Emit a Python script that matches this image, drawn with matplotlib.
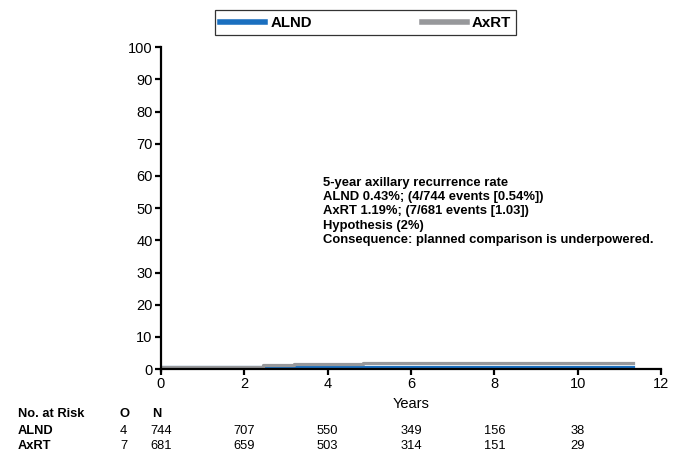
import numpy as np
import matplotlib
matplotlib.use("Agg")
import matplotlib.pyplot as plt

plt.rcParams['font.family'] = ['Liberation Sans', 'DejaVu Sans']

# curvas de incidencia acumulada (escalones), en % y años
alnd_t = [0, 3.2, 11.33]
alnd_y = [0.6, 0.6, 0.6]
axrt_t = [0, 2.45, 3.2, 4.4, 4.85, 11.33]
axrt_y = [0.8, 1.2, 1.5, 1.7, 2.0, 2.0]

# tabla de pacientes en riesgo
risk_years = [0, 2, 4, 6, 8, 10]
alnd_risk = [744, 707, 550, 349, 156, 38]
axrt_risk = [681, 659, 503, 314, 151, 29]
alnd_events = 4
axrt_events = 7

texto = ("5-year axillary recurrence rate\n"
         "ALND 0.43%; (4/744 events [0.54%])\n"
         "AxRT 1.19%; (7/681 events [1.03])\n"
         "Hypothesis (2%)\n"
         "Consequence: planned comparison is underpowered.")

azul = "#1a6fbf"
gris = "#97989b"

fig = plt.figure(figsize=(6.76, 4.54), dpi=100)
ax = fig.add_axes([0.238, 0.187, 0.740, 0.709])

ax.step(alnd_t, alnd_y, where="post", color=azul, lw=2.3, label="ALND")
ax.step(axrt_t, axrt_y, where="post", color=gris, lw=2.3, label="AxRT")

ax.set_xlim(0, 12)
ax.set_ylim(0, 100)
ax.set_xticks(np.arange(0, 13, 2))
ax.set_yticks(np.arange(0, 101, 10))
ax.spines["top"].set_visible(False)
ax.spines["right"].set_visible(False)
ax.spines["left"].set_linewidth(1.6)
ax.spines["bottom"].set_linewidth(1.6)
ax.spines["left"].set_bounds(-0.6, 100)
ax.tick_params(width=1.6, length=4, labelsize=10.5, pad=2)
ax.set_xlabel("Years", fontsize=10.5, labelpad=4)

ax.text(3.9, 59.8, texto, fontsize=9.4, fontweight="bold", va="top",
        ha="left", linespacing=1.27)

leg = fig.legend(loc="upper center", bbox_to_anchor=(0.541, 0.977), ncol=2,
                 frameon=True, fancybox=False, edgecolor="black",
                 prop={"weight": "bold", "size": 10.8}, handlelength=3.0,
                 columnspacing=7.3, borderpad=0.36, handletextpad=0.35,
                 borderaxespad=0)
leg.get_frame().set_linewidth(0.9)
for lh in leg.get_lines():
    lh.set_linewidth(4)

# tabla de riesgo debajo del eje
fs = 9.3
fig.text(18 / 676, 1 - 414 / 454, "No. at Risk", fontsize=fs, fontweight="bold", va="center")
fig.text(18 / 676, 1 - 431 / 454, "ALND", fontsize=fs, fontweight="bold", va="center")
fig.text(18 / 676, 1 - 446 / 454, "AxRT", fontsize=fs, fontweight="bold", va="center")
fig.text(119 / 676, 1 - 414 / 454, "O", fontsize=fs, fontweight="bold", va="center")
fig.text(152 / 676, 1 - 414 / 454, "N", fontsize=fs, fontweight="bold", va="center")
fig.text(120 / 676, 1 - 431 / 454, str(alnd_events), fontsize=fs, va="center")
fig.text(120 / 676, 1 - 446 / 454, str(axrt_events), fontsize=fs, va="center")
for yr, a, b in zip(risk_years, alnd_risk, axrt_risk):
    xf = fig.transFigure.inverted().transform(ax.transData.transform((yr, 0)))[0]
    fig.text(xf, 1 - 431 / 454, str(a), fontsize=fs, ha="center", va="center")
    fig.text(xf, 1 - 446 / 454, str(b), fontsize=fs, ha="center", va="center")

fig.savefig("out.png", dpi=100)
